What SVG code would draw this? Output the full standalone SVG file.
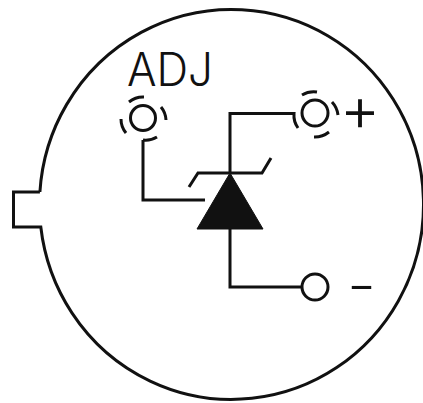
<svg xmlns="http://www.w3.org/2000/svg" width="423" height="403" viewBox="0 0 423 403">
<style>
.l{fill:none;stroke:#111;stroke-width:3;stroke-linejoin:miter}
.t{fill:#111;font-weight:300;font-family:Inter,"Open Sans",sans-serif}
</style>
<rect width="423" height="403" fill="#fff"/>
<g id="body"><path class="l" d="M39.900 192 L13.500 192 L13.500 227 L40.800 227 A192 195 0 1 0 39.900 192"/></g>
<g id="connectors">
<path class="l" d="M230 173 V113.500 H294 A22 22 0 0 0 298 128"/>
<path class="l" d="M230 229 V287 H302"/>
<path class="l" d="M143 140 A22 22 0 0 0 157 137 M143 140 V200 H205"/>
</g>
<g id="thyristor">
<path d="M230 173 L197 229 H263 Z" fill="#111" stroke="#111" stroke-width="1"/>
<path class="l" d="M189 187 L198 173 H262 L271 158"/>
</g>
<g id="adj">
<circle class="l" cx="143" cy="118" r="12.500"/>
<path class="l" d="M129 102 A22 22 0 0 1 144 97 M161 107 A22 22 0 0 1 166 120 M126 133 A22 22 0 0 1 121 119"/>
<text class="t" x="127" y="85.500" font-size="46" textLength="86" lengthAdjust="spacingAndGlyphs">ADJ</text>
</g>
<g id="plus">
<circle class="l" cx="315" cy="113" r="13"/>
<path class="l" d="M302 95 A23 23 0 0 1 317 92 M332 102 A23 23 0 0 1 338 115 M314 137 A23 23 0 0 0 329 132"/>
<text class="t" x="360" y="131" font-size="62" text-anchor="middle">+</text>
</g>
<g id="minus">
<circle class="l" cx="315" cy="287" r="13"/>
<text class="t" x="361.500" y="303" font-size="50" text-anchor="middle" textLength="29" lengthAdjust="spacingAndGlyphs">-</text>
</g>
</svg>
